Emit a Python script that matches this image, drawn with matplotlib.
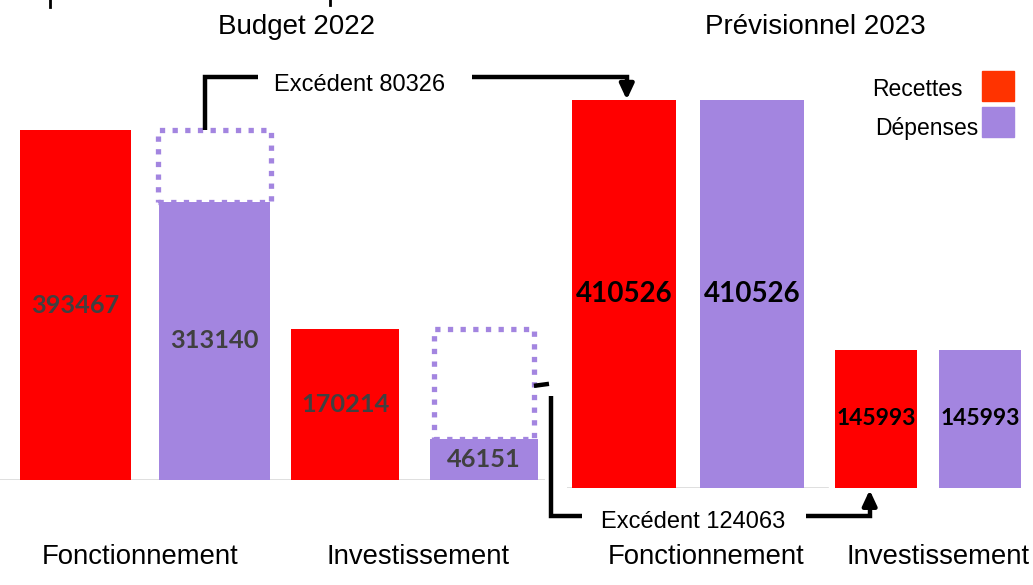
import matplotlib
matplotlib.use("Agg")
import matplotlib.pyplot as plt

# ---------------- data ----------------
categories = ["Fonctionnement", "Investissement"]
recettes_2022 = [393467, 170214]
depenses_2022 = [313140, 46151]
recettes_2023 = [410526, 145993]
depenses_2023 = [410526, 145993]
excedent_labels = ["Excédent 80326", "Excédent 124063"]
group_titles = ["Budget 2022", "Prévisionnel 2023"]
legend_labels = ["Recettes", "Dépenses"]

RED = "#FF0000"
LEG_RED = "#FF3300"
PURPLE = "#A385E0"
W, H = 1033, 585

fig = plt.figure(figsize=(W / 100, H / 100), dpi=100)
TXT = ["Liberation Sans", "DejaVu Sans"]
NUM = ["Lato", "DejaVu Sans"]


def fig_rect(x0, y0, x1, y1):
    # pixel box (top-left origin) -> figure fraction rect
    return [x0 / W, 1 - y1 / H, (x1 - x0) / W, (y1 - y0) / H]


# left axes (Budget 2022)
axL = fig.add_axes(fig_rect(0, 0, 545, 480))
axL.set_xlim(-0.538, 1.484)
axL.set_ylim(0, 540000)
# right axes (Prévisionnel 2023)
axR = fig.add_axes(fig_rect(567, 0, 1033, 488))
axR.set_xlim(-0.504, 1.4375)
axR.set_ylim(0, 516000)
for a in (axL, axR):
    a.axis("off")

pos = [0, 1]
offL = [0.258, 0.258]
widL = [0.41, 0.40]
boxW = [0.42, 0.37]
offR = [0.267, 0.216]
widR = [0.433, 0.342]

# ---- Budget 2022 bars ----
xr = [p - o for p, o in zip(pos, offL)]
xd = [p + o for p, o in zip(pos, offL)]
axL.bar(xr, recettes_2022, width=widL, color=RED, zorder=2)
axL.bar(xd, depenses_2022, width=widL, color=PURPLE, zorder=2)
# dotted boxes = excédent
exc = [r - d for r, d in zip(recettes_2022, depenses_2022)]
axL.bar(xd, exc, bottom=depenses_2022, width=boxW,
        fill=False, edgecolor=PURPLE, linewidth=3.8,
        linestyle=(0, (1, 1.4)), zorder=3)
axL.axhline(0, xmin=0, xmax=1, color="#d9d9d9", lw=1.2, zorder=1)
for x, v in zip(xr, recettes_2022):
    axL.text(x, v / 2, f"{v}", ha="center", va="center", fontsize=18.3,
             fontweight="bold", color="#404040", family=NUM, zorder=4)
for x, v in zip(xd, depenses_2022):
    axL.text(x, v / 2, f"{v}", ha="center", va="center", fontsize=18.3,
             fontweight="bold", color="#404040", family=NUM, zorder=4)

# ---- Prévisionnel 2023 bars ----
xr2 = [p - o for p, o in zip(pos, offR)]
xd2 = [p + o for p, o in zip(pos, offR)]
axR.bar(xr2, recettes_2023, width=widR, color=RED, zorder=2)
axR.bar(xd2, depenses_2023, width=widR, color=PURPLE, zorder=2)
axR.axhline(0, xmin=0, xmax=0.56, color="#d9d9d9", lw=1.2, zorder=1)
sizes = [20, 16.5]
for x, v, s in zip(xr2, recettes_2023, sizes):
    axR.text(x, v / 2, f"{v}", ha="center", va="center", fontsize=s,
             fontweight="bold", color="black", family=NUM, zorder=4)
for x, v, s in zip(xd2, depenses_2023, sizes):
    axR.text(x, v / 2, f"{v}", ha="center", va="center", fontsize=s,
             fontweight="bold", color="black", family=NUM, zorder=4)

# ---- overlay in pixel coordinates for annotations ----
ov = fig.add_axes([0, 0, 1, 1], zorder=10)
ov.set_xlim(0, W)
ov.set_ylim(H, 0)
ov.axis("off")
ov.patch.set_alpha(0)


def px(ax, x, y):
    dx, dy = ax.transData.transform((x, y))
    return dx, H - dy


# titles
ov.text(297, 27, group_titles[0], ha="center", va="center", fontsize=20, family=TXT)
ov.text(815, 27, group_titles[1], ha="center", va="center", fontsize=20, family=TXT)

# category labels
catL_shift = [-5, 4]
for x, c, s in zip(pos, categories, catL_shift):
    lx, _ = px(axL, x, 0)
    ov.text(lx + s, 557, c, ha="center", va="center", fontsize=19.8, family=TXT)
catR_shift = [18, 10]
for x, c, s in zip(pos, categories, catR_shift):
    lx, _ = px(axR, x, 0)
    ov.text(lx + s, 557, c, ha="center", va="center", fontsize=19.8, family=TXT)

# legend
ov.text(963, 90, legend_labels[0], ha="right", va="center", fontsize=16.5, family=TXT)
ov.text(978, 128, legend_labels[1], ha="right", va="center", fontsize=16.5, family=TXT)
ov.add_patch(plt.Rectangle((982, 71), 32, 30, color=LEG_RED))
ov.add_patch(plt.Rectangle((982, 107), 32, 30, color=PURPLE))

LW = 3.2
# arrow 1: excédent 2022 fonctionnement -> recettes 2023 fonctionnement
sx, sy = px(axL, xd[0] - 0.037, recettes_2022[0])
ex, ey = px(axR, xr2[0] + 0.012, recettes_2023[0])
ov.plot([sx, sx, 258], [sy, 77, 77], color="black", lw=LW, solid_capstyle="butt",
        solid_joinstyle="miter")
ov.plot([472, ex, ex], [77, 77, ey - 14], color="black", lw=LW,
        solid_capstyle="butt", solid_joinstyle="miter")
ov.annotate("", xy=(ex, ey), xytext=(ex, ey - 16),
            arrowprops=dict(arrowstyle="-|>,head_length=0.9,head_width=0.42",
                            color="black", lw=LW, shrinkA=0, shrinkB=0))
ov.text(360, 85, excedent_labels[0], ha="center", va="center", fontsize=17, family=TXT)

# arrow 2: excédent 2022 investissement -> recettes 2023 investissement
bx, by = px(axL, xd[1] + boxW[1] / 2, (recettes_2022[1] + depenses_2022[1]) / 2)
ov.plot([bx, 549], [by + 2, by], color="black", lw=LW, solid_capstyle="butt")
tx, ty = px(axR, xr2[1] - 0.027, 0)
ov.plot([551, 551, 582], [by + 12, 516, 516], color="black", lw=LW,
        solid_capstyle="butt", solid_joinstyle="miter")
ov.plot([806, tx, tx], [516, 516, ty + 14], color="black", lw=LW,
        solid_capstyle="butt", solid_joinstyle="miter")
ov.annotate("", xy=(tx, ty + 2), xytext=(tx, ty + 18),
            arrowprops=dict(arrowstyle="-|>,head_length=0.9,head_width=0.42",
                            color="black", lw=LW, shrinkA=0, shrinkB=0))
ov.text(693, 522, excedent_labels[1], ha="center", va="center", fontsize=17, family=TXT)

# clipped descenders of a heading above the frame
ov.plot([50, 50], [0, 7], color="black", lw=2)
ov.plot([330, 330], [0, 5], color="black", lw=2)

fig.savefig("out.png", dpi=100)
